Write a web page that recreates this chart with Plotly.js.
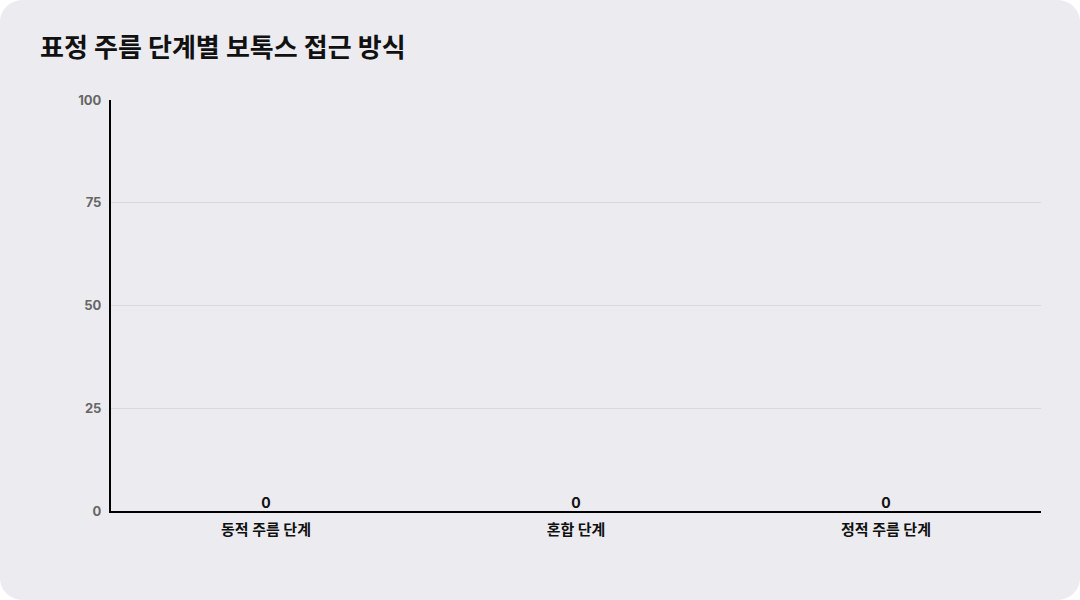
<!DOCTYPE html>
<html>
<head>
<meta charset="utf-8">
<script src="https://cdn.plot.ly/plotly-3.0.1.min.js"></script>
<style>
  html, body { margin: 0; padding: 0; background: #ffffff; }
  #card {
    width: 1080px; height: 600px;
    background: #ecebf0;
    border-radius: 22px;
    overflow: hidden;
  }
  #chart { width: 1080px; height: 600px; }
</style>
</head>
<body>
<div id="card"><div id="chart"></div></div>
<script>
const TITLE = "표정 주름 단계별 보톡스 접근 방식";
const categories = ["동적 주름 단계", "혼합 단계", "정적 주름 단계"];
const values = [0, 0, 0];
const yTicks = [0, 25, 50, 75, 100];

const FONT = "Inter, 'Noto Sans CJK KR', 'Noto Sans', sans-serif";

Plotly.newPlot("chart", [
  {
    x: categories,
    y: values,
    type: "bar",
    marker: { color: "#4a6cf7" },
    hoverinfo: "x+y"
  },
  {
    // value labels sitting on the (empty) bars
    x: categories,
    y: values,
    type: "scatter",
    mode: "text",
    text: values.map(v => String(v)),
    textposition: "top center",
    cliponaxis: false,
    textfont: { family: FONT, size: 14, color: "#111111", weight: 700 },
    hoverinfo: "skip"
  }
], {
  width: 1080,
  height: 600,
  paper_bgcolor: "rgba(0,0,0,0)",
  plot_bgcolor: "rgba(0,0,0,0)",
  margin: { l: 111, r: 39, t: 100, b: 89 },
  title: {
    text: "<b>" + TITLE + "</b>",
    x: 0, xref: "paper", xanchor: "left",
    y: 0.92, yref: "container", yanchor: "middle",
    font: { family: FONT, size: 26, color: "#111111" },
    pad: { l: -71 }
  },
  font: { family: FONT },
  showlegend: false,
  xaxis: {
    showline: true, linecolor: "#000000", linewidth: 2,
    showgrid: false, ticks: "",
    ticklabelstandoff: 4,
    tickfont: { family: FONT, size: 15, color: "#111111", weight: 700 },
    fixedrange: true
  },
  yaxis: {
    range: [0, 100],
    tickvals: yTicks,
    showline: true, linecolor: "#000000", linewidth: 2,
    gridcolor: "#d9d8de", gridwidth: 1,
    zeroline: false, ticks: "",
    ticklabelstandoff: 5,
    tickfont: { family: FONT, size: 13, color: "#666666", weight: 700 },
    fixedrange: true
  }
}, { displayModeBar: false, staticPlot: true });
</script>
</body>
</html>
